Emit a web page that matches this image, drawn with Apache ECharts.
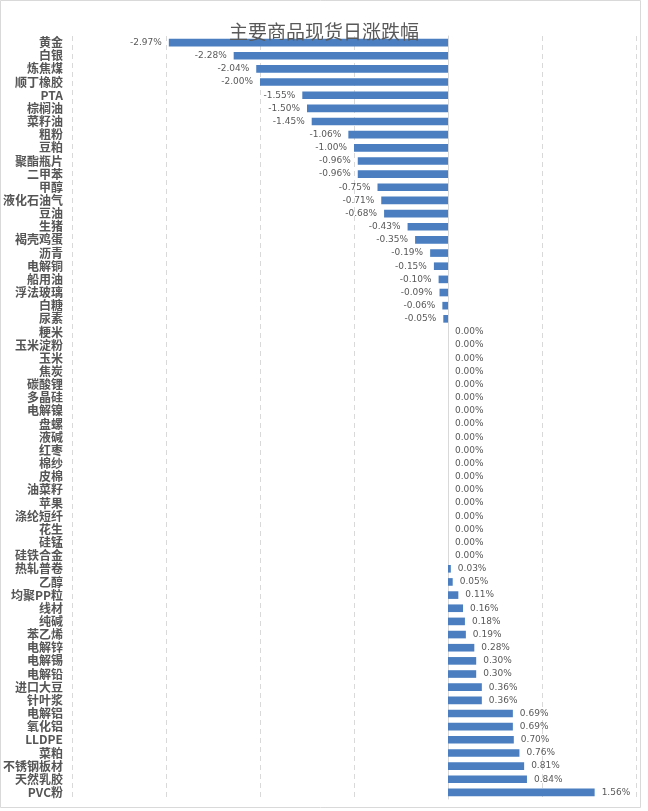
<!DOCTYPE html>
<html>
<head>
<meta charset="utf-8">
<script src="https://cdn.jsdelivr.net/npm/echarts@6/dist/echarts.min.js"></script>
<style>
html,body{margin:0;padding:0;background:#fff;}
#chart{width:648px;height:811px;}
</style>
</head>
<body>
<div id="chart"></div>
<script>
const categories = ['黄金','白银','炼焦煤','顺丁橡胶','PTA','棕榈油','菜籽油','粗粉','豆粕','聚酯瓶片','二甲苯','甲醇','液化石油气','豆油','生猪','褐壳鸡蛋','沥青','电解铜','船用油','浮法玻璃','白糖','尿素','粳米','玉米淀粉','玉米','焦炭','碳酸锂','多晶硅','电解镍','盘螺','液碱','红枣','棉纱','皮棉','油菜籽','苹果','涤纶短纤','花生','硅锰','硅铁合金','热轧普卷','乙醇','均聚PP粒','线材','纯碱','苯乙烯','电解锌','电解锡','电解铅','进口大豆','针叶浆','电解铝','氧化铝','LLDPE','菜粕','不锈钢板材','天然乳胶','PVC粉'];
const values = [-2.97,-2.28,-2.04,-2.00,-1.55,-1.50,-1.45,-1.06,-1.00,-0.96,-0.96,-0.75,-0.71,-0.68,-0.43,-0.35,-0.19,-0.15,-0.10,-0.09,-0.06,-0.05,0,0,0,0,0,0,0,0,0,0,0,0,0,0,0,0,0,0,0.03,0.05,0.11,0.16,0.18,0.19,0.28,0.30,0.30,0.36,0.36,0.69,0.69,0.70,0.76,0.81,0.84,1.56];
const axisTicks = {min: -4, max: 2, interval: 1};

const chart = echarts.init(document.getElementById('chart'), null, {renderer: 'canvas'});
const data = values.map(v => ({
  value: v,
  label: {position: v < 0 ? 'left' : 'right'}
}));
chart.setOption({
  animation: false,
  backgroundColor: '#fff',
  graphic: [{
    type: 'rect',
    shape: {x: 0.5, y: 0.5, width: 640, height: 807},
    style: {fill: 'none', stroke: '#d9d9d9', lineWidth: 1},
    silent: true
  }],
  title: {
    text: '主要商品现货日涨跌幅',
    left: 'center',
    top: 17,
    textStyle: {fontFamily: 'Noto Sans CJK SC', fontSize: 19, fontWeight: 'normal', color: '#595959'}
  },
  grid: {left: 72, right: 12, top: 36, bottom: 12, containLabel: false},
  xAxis: {
    type: 'value',
    min: axisTicks.min, max: axisTicks.max, interval: axisTicks.interval,
    axisLabel: {show: false},
    axisLine: {show: false},
    axisTick: {show: false},
    splitLine: {show: true, lineStyle: {color: '#d9d9d9', type: [5, 4], width: 1}}
  },
  yAxis: {
    type: 'category',
    data: categories,
    inverse: true,
    axisLine: {show: true, onZero: true, lineStyle: {color: '#d9d9d9', width: 1}},
    axisTick: {show: false},
    axisLabel: {
      interval: 0, margin: 9,
      fontFamily: 'Noto Sans CJK SC', fontSize: 12, fontWeight: 'bold', color: '#555555'
    }
  },
  series: [{
    type: 'bar',
    data: data,
    barWidth: '58%',
    itemStyle: {color: '#4A7EC0'},
    label: {
      show: true,
      distance: 7,
      fontFamily: 'DejaVu Sans',
      fontSize: 9,
      color: '#595959',
      formatter: p => p.value.toFixed(2) + '%'
    }
  }]
});
</script>
</body>
</html>
